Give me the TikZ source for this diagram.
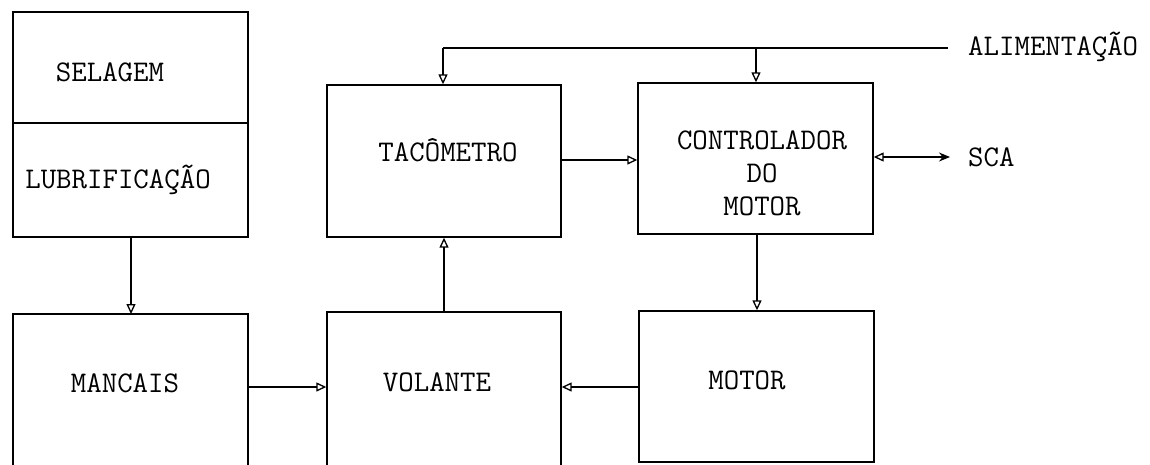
\documentclass[tikz,border=0pt]{standalone}
\usetikzlibrary{arrows.meta}
\begin{document}
\begin{tikzpicture}[x=1pt,y=-1pt,
  box/.style={draw,line width=1.4pt,inner sep=0pt,minimum width=#1},
  txt/.style={font=\fontsize{30}{33}\selectfont\ttfamily,inner sep=0pt},
  conn/.style={line width=1.3pt},
  arr/.style={conn,-{Triangle[open,length=10pt,width=9pt,line width=1.3pt]}}]
\useasboundingbox (0,0) rectangle (1150,464);
% boxes
\node[box=235pt,minimum height=111pt] (sel) at (130.5,67.5) {};
\node[box=235pt,minimum height=114pt] (lub) at (130.5,180) {};
\node[box=235pt,minimum height=158pt] (man) at (130.5,393) {};
\node[box=234pt,minimum height=152pt] (tac) at (444,161) {};
\node[box=234pt,minimum height=158pt] (vol) at (444,391) {};
\node[box=235pt,minimum height=151pt] (ctl) at (755.5,158.5) {};
\node[box=235pt,minimum height=151pt] (mot) at (756.5,386.5) {};
% texts
\node[txt] (selt) at (110,72) {SELAGEM};
\node[txt] (lubt) at (118,180) {LUBRIFICAÇÃO};
\node[txt] (mant) at (125,383) {MANCAIS};
\node[txt] (tact) at (448,150) {TACÔMETRO};
\node[txt] (volt) at (437,382) {VOLANTE};
\node[txt,align=center] (ctlt) at (762,173) {CONTROLADOR\\DO\\MOTOR};
\node[txt] (mott) at (747,380) {MOTOR};
\node[txt,anchor=west] (alim) at (968,47) {ALIMENTAÇÃO};
\node[txt,anchor=west] (sca) at (968,157) {SCA};
% connectors
\coordinate (alimend) at (948,48);
\coordinate (tl) at (443,48);
\coordinate (cj) at (756,48);
\coordinate (scaend) at (950,157);
\draw[conn] (alimend) -- (tl);
\draw[arr] (tl) -- (tac.north -| tl);
\draw[arr] (cj) -- (ctl.north -| cj);
\draw[arr] (131,237) -- (131,314);
\draw[arr] (man.east |- 0,387) -- (vol.west |- 0,387);
\draw[arr] (mot.west |- 0,387) -- (vol.east |- 0,387);
\draw[arr] (vol.north) -- (tac.south);
\draw[arr] (tac.east |- 0,160) -- (ctl.west |- 0,160);
\draw[arr] (ctl.south -| 757,0) -- (mot.north -| 757,0);
\draw[conn,{Triangle[open,length=10pt,width=9pt,line width=1.3pt]}-{Stealth[length=11pt,width=9pt]}] (ctl.east |- scaend) -- (scaend);
\end{tikzpicture}
\end{document}
